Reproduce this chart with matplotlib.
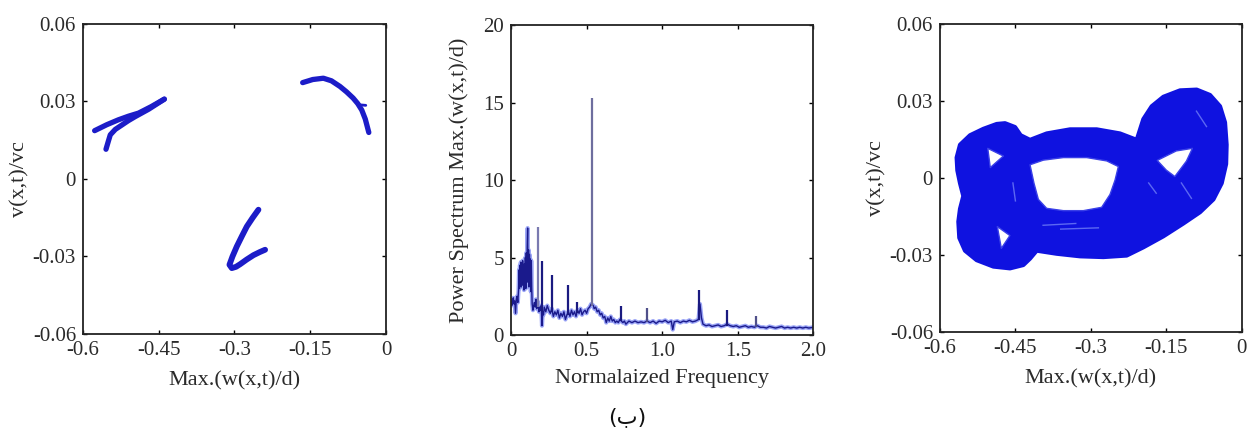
import numpy as np
import matplotlib
matplotlib.use("Agg")
import matplotlib.pyplot as plt

"""Reading values from the figure"""
# left panel: Poincare map segments (w, v)
seg1_upper_w = [-0.577, -0.553, -0.530, -0.510, -0.490, -0.465, -0.439]
seg1_upper_v = [0.0187, 0.0210, 0.0229, 0.0243, 0.0255, 0.0280, 0.0309]
seg1_lower_w = [-0.5545, -0.550, -0.546, -0.536, -0.523, -0.510, -0.497, -0.470, -0.439]
seg1_lower_v = [0.0115, 0.0145, 0.0171, 0.0192, 0.0209, 0.0226, 0.0241, 0.0270, 0.0309]
seg2_w = [-0.165, -0.145, -0.124, -0.108, -0.091, -0.078, -0.065, -0.056, -0.048, -0.041, -0.034]
seg2_v = [0.0373, 0.0385, 0.0390, 0.0380, 0.0358, 0.0337, 0.0313, 0.0292, 0.0267, 0.0232, 0.0180]
seg2_tick_w = [-0.052, -0.040]
seg2_tick_v = [0.0287, 0.0285]
seg3_w = [-0.2526, -0.2640, -0.2756, -0.2850, -0.2954, -0.3040, -0.3100, -0.3053, -0.2970, -0.2889, -0.2760, -0.2625, -0.2500, -0.2394]
seg3_v = [-0.0119, -0.0150, -0.0184, -0.0220, -0.0261, -0.0300, -0.0332, -0.0345, -0.0340, -0.0330, -0.0312, -0.0295, -0.0283, -0.0274]

# middle panel: power spectrum
freq = [0.000, 0.005, 0.010, 0.015, 0.020, 0.025, 0.030, 0.035, 0.040, 0.045, 0.050,
        0.053, 0.056, 0.059, 0.062, 0.065, 0.068, 0.071, 0.074, 0.077, 0.080, 0.083,
        0.086, 0.089, 0.092, 0.095, 0.098, 0.101, 0.104, 0.107, 0.110, 0.113, 0.116,
        0.119, 0.122, 0.125, 0.128, 0.131, 0.134, 0.137, 0.140, 0.145, 0.150, 0.155,
        0.160, 0.165, 0.170, 0.175, 0.180, 0.185, 0.190, 0.195, 0.200, 0.205, 0.210,
        0.215, 0.220, 0.230, 0.240, 0.250, 0.260, 0.270, 0.280, 0.290, 0.300, 0.310,
        0.320, 0.330, 0.340, 0.350, 0.360, 0.370, 0.380, 0.390, 0.400, 0.410, 0.420,
        0.430, 0.440, 0.450, 0.460, 0.470, 0.480, 0.490, 0.500, 0.510, 0.520, 0.530,
        0.545, 0.550, 0.560, 0.570, 0.580, 0.590, 0.600, 0.610, 0.620, 0.630, 0.640,
        0.650, 0.660, 0.670, 0.680, 0.690, 0.700, 0.710, 0.720, 0.730, 0.740, 0.750,
        0.760, 0.780, 0.800, 0.820, 0.840, 0.860, 0.880, 0.900, 0.920, 0.940, 0.960,
        0.980, 1.000, 1.020, 1.040, 1.060, 1.070, 1.080, 1.100, 1.120, 1.140, 1.160,
        1.180, 1.200, 1.220, 1.240, 1.250, 1.260, 1.270, 1.290, 1.310, 1.330, 1.350,
        1.370, 1.390, 1.410, 1.430, 1.450, 1.470, 1.490, 1.510, 1.530, 1.550, 1.570,
        1.590, 1.610, 1.630, 1.650, 1.670, 1.690, 1.710, 1.730, 1.750, 1.770, 1.790,
        1.810, 1.830, 1.850, 1.870, 1.890, 1.910, 1.930, 1.950, 1.970, 2.000]
power = [2.3, 1.9, 2.1, 2.4, 2.0, 2.2, 1.4, 2.3, 2.5, 2.1, 2.9,
         4.2, 3.0, 4.5, 3.3, 4.7, 3.1, 4.4, 3.6, 4.8, 3.2, 4.3,
         2.9, 4.6, 3.4, 5.0, 3.0, 5.3, 3.5, 5.6, 6.9, 3.4, 5.5,
         3.1, 5.2, 3.6, 4.9, 2.8, 4.8, 3.0, 2.0, 1.6, 1.9, 2.1,
         1.8, 2.3, 1.7, 2.2, 1.9, 1.5, 1.8, 1.6, 1.9, 0.6, 1.5,
         1.3, 1.8, 1.5, 1.9, 1.6, 1.4, 1.7, 1.2, 1.5, 1.3, 1.6,
         1.1, 1.4, 1.2, 1.5, 1.0, 1.3, 1.5, 1.2, 1.6, 1.3, 1.5,
         1.2, 1.6, 1.4, 1.7, 1.3, 1.5, 1.6, 1.4, 1.7, 1.8, 2.0,
         1.9, 1.7, 1.8, 1.5, 1.6, 1.3, 1.4, 1.1, 1.2, 0.8, 1.1,
         0.9, 1.2, 0.9, 1.0, 0.8, 0.9, 0.8, 1.0, 0.9, 0.8, 0.9,
         0.7, 0.9, 0.8, 0.9, 0.8, 0.85, 0.8, 0.9, 0.8, 0.9, 0.75,
         0.9, 0.85, 0.95, 0.8, 0.9, 0.35, 0.85, 0.9, 0.8, 0.9, 0.85,
         0.95, 0.85, 0.9, 1.0, 2.0, 1.1, 0.7, 0.6, 0.65, 0.55, 0.6,
         0.65, 0.55, 0.6, 0.7, 0.6, 0.55, 0.6, 0.5, 0.55, 0.6, 0.5,
         0.55, 0.5, 0.6, 0.5, 0.5, 0.45, 0.55, 0.5, 0.45, 0.5, 0.55,
         0.45, 0.5, 0.45, 0.5, 0.45, 0.5, 0.45, 0.5, 0.45, 0.5]
spike_freq = [0.176, 0.203, 0.269, 0.379, 0.434, 0.538, 0.725, 0.897, 1.245, 1.430, 1.620]
spike_base = [1.8, 1.5, 1.5, 1.3, 1.4, 1.9, 0.9, 0.85, 1.0, 0.6, 0.5]
spike_peak = [7.0, 4.8, 3.9, 3.2, 2.1, 15.3, 1.9, 1.75, 2.9, 1.6, 1.2]
spike_color = ['#7a7ab0', '#1a1a80', '#1a1a80', '#1a1a80', '#1a1a80', '#6e6e9e',
               '#1a1a80', '#50508a', '#1a1a80', '#1a1a80', '#50508a']

# right panel: chaotic attractor, outer outline, holes and lighter streaks
outer_w = [-0.5669, -0.5602, -0.5403, -0.5138, -0.4873, -0.4707, -0.4508, -0.4396, -0.4210,
           -0.3879, -0.3414, -0.2884, -0.2420, -0.2088, -0.1956, -0.1790, -0.1558, -0.1227,
           -0.0895, -0.0630, -0.0431, -0.0332, -0.0300, -0.0310, -0.0398, -0.0563, -0.0829,
           -0.1160, -0.1558, -0.1956, -0.2287, -0.2751, -0.3215, -0.3680, -0.4077, -0.4210,
           -0.4343, -0.4608, -0.4939, -0.5271, -0.5503, -0.5616, -0.5635, -0.5602, -0.5536,
           -0.5602, -0.5655]
outer_v = [0.0079, 0.0129, 0.0166, 0.0191, 0.0210, 0.0213, 0.0198, 0.0166, 0.0148,
           0.0173, 0.0189, 0.0189, 0.0173, 0.0148, 0.0229, 0.0279, 0.0316, 0.0341,
           0.0344, 0.0323, 0.0279, 0.0216, 0.0129, 0.0054, -0.0021, -0.0084, -0.0134,
           -0.0178, -0.0228, -0.0271, -0.0303, -0.0309, -0.0306, -0.0296, -0.0284, -0.0315,
           -0.0340, -0.0353, -0.0346, -0.0321, -0.0284, -0.0234, -0.0171, -0.0121, -0.0071,
           -0.0021, 0.0029]
hole_mid_w = [-0.4210, -0.3945, -0.3547, -0.3083, -0.2685, -0.2453, -0.2519, -0.2619,
              -0.2785, -0.3149, -0.3547, -0.3879, -0.4044, -0.4131]
hole_mid_v = [0.0051, 0.0069, 0.0079, 0.0079, 0.0066, 0.0044, -0.0009, -0.0065,
              -0.0115, -0.0128, -0.0128, -0.0119, -0.0084, -0.0021]
hole_right_w = [-0.168, -0.130, -0.098, -0.110, -0.133, -0.150]
hole_right_v = [0.0068, 0.0105, 0.0115, 0.0065, 0.0005, 0.0030]
hole_lu_w = [-0.505, -0.474, -0.500]
hole_lu_v = [0.0115, 0.0085, 0.0040]
hole_ll_w = [-0.486, -0.461, -0.478]
hole_ll_v = [-0.0190, -0.0225, -0.0275]
streaks_w = [[-0.395, -0.330], [-0.360, -0.285], [-0.185, -0.170],
             [-0.090, -0.070], [-0.455, -0.450], [-0.120, -0.100]]
streaks_v = [[-0.0185, -0.0178], [-0.0200, -0.0195], [-0.0020, -0.0060],
             [0.0260, 0.0200], [-0.0020, -0.0090], [-0.0020, -0.0080]]

"""Tick labels"""
w_ticks = [-0.6, -0.45, -0.3, -0.15, 0]
w_tick_labels = ['-0.6', '-0.45', '-0.3', '-0.15', '0']
v_ticks = [-0.06, -0.03, 0, 0.03, 0.06]
v_tick_labels = ['-0.06', '-0.03', '0', '0.03', '0.06']
f_ticks = [0, 0.5, 1.0, 1.5, 2.0]
f_tick_labels = ['0', '0.5', '1.0', '1.5', '2.0']
p_ticks = [0, 5, 10, 15, 20]
p_tick_labels = ['0', '5', '10', '15', '20']

plt.rcParams['font.family'] = ['Liberation Serif', 'DejaVu Serif']
text_color = '#2a2a2a'
label_size = 16
tick_size = 15

fig = plt.figure(figsize=(12.54, 4.32), dpi=100)
ax1 = fig.add_axes([0.0662, 0.2269, 0.2416, 0.7176])
ax2 = fig.add_axes([0.4075, 0.2245, 0.2411, 0.7176])
ax3 = fig.add_axes([0.7496, 0.2322, 0.2406, 0.7123])


def style_axes(ax):
    ax.tick_params(direction='in', length=3, width=1, top=True, right=True,
                   labelsize=tick_size, labelcolor=text_color, pad=5)
    for s in ax.spines.values():
        s.set_linewidth(1.3)
        s.set_color('#222222')


"""Left panel"""
blue1 = '#1c1cc8'
ax1.plot(seg1_upper_w, seg1_upper_v, color=blue1, lw=3.8, solid_capstyle='round')
ax1.plot(seg1_lower_w, seg1_lower_v, color=blue1, lw=3.8, solid_capstyle='round')
ax1.plot(seg2_w, seg2_v, color=blue1, lw=3.8, solid_capstyle='round')
ax1.plot(seg2_tick_w, seg2_tick_v, color=blue1, lw=2.0, solid_capstyle='round')
ax1.plot(seg3_w, seg3_v, color=blue1, lw=4.2, solid_capstyle='round')
ax1.set_xlim(-0.6, 0)
ax1.set_ylim(-0.06, 0.06)
ax1.set_xticks(w_ticks)
ax1.set_xticklabels(w_tick_labels)
ax1.set_yticks(v_ticks)
ax1.set_yticklabels(v_tick_labels)
ax1.set_xlabel('Max.(w(x,t)/d)', fontsize=label_size, color=text_color, labelpad=8)
ax1.set_ylabel('v(x,t)/vc', fontsize=label_size, color=text_color, labelpad=2)
style_axes(ax1)

"""Middle panel"""
ax2.plot(freq, power, color='#4a5cf0', lw=3.0, alpha=0.55)
ax2.plot(freq, power, color='#1a1a8c', lw=1.0)
for f, b, p, c in zip(spike_freq, spike_base, spike_peak, spike_color):
    ax2.vlines(f, b, p, color=c, lw=1.6)
ax2.set_xlim(0, 2.0)
ax2.set_ylim(0, 20)
ax2.set_xticks(f_ticks)
ax2.set_xticklabels(f_tick_labels)
ax2.set_yticks(p_ticks)
ax2.set_yticklabels(p_tick_labels)
ax2.set_xlabel('Normalaized Frequency', fontsize=label_size, color=text_color, labelpad=6)
ax2.set_ylabel('Power Spectrum Max.(w(x,t)/d)', fontsize=label_size, color=text_color, labelpad=10)
style_axes(ax2)

"""Right panel"""
blue3 = '#0f12e0'
ax3.fill(outer_w, outer_v, color=blue3, ec=blue3, lw=3.0, joinstyle='round')
for sw, sv in zip(streaks_w, streaks_v):
    ax3.plot(sw, sv, color='#5c68f2', lw=1.0)
for hw, hv in [(hole_mid_w, hole_mid_v), (hole_right_w, hole_right_v),
               (hole_lu_w, hole_lu_v), (hole_ll_w, hole_ll_v)]:
    ax3.fill(hw, hv, color='white', ec='#3a40e8', lw=1.0, joinstyle='round')
ax3.set_xlim(-0.6, 0)
ax3.set_ylim(-0.06, 0.06)
ax3.set_xticks(w_ticks)
ax3.set_xticklabels(w_tick_labels)
ax3.set_yticks(v_ticks)
ax3.set_yticklabels(v_tick_labels)
ax3.set_xlabel('Max.(w(x,t)/d)', fontsize=label_size, color=text_color, labelpad=8)
ax3.set_ylabel('v(x,t)/vc', fontsize=label_size, color=text_color, labelpad=2)
style_axes(ax3)

"""Caption"""
fig.text(0.5, 0.035, '(ب)', ha='center', va='center', fontsize=16,
         family=['DejaVu Sans'], color='#111111')

fig.savefig('out.png', dpi=100, facecolor='white')
